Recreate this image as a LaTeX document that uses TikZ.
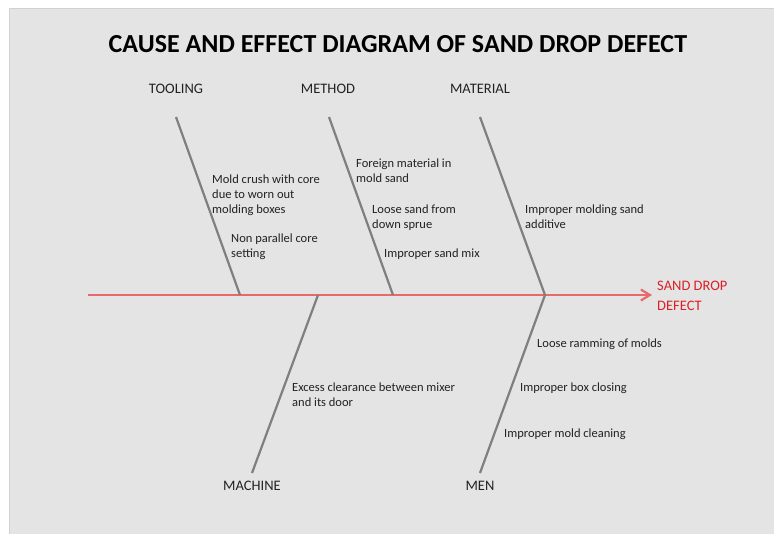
\documentclass[tikz,border=0pt]{standalone}
\usepackage{fontspec}
\setmainfont{Carlito}
\usetikzlibrary{arrows.meta}
\definecolor{bggray}{HTML}{E4E4E4}
\definecolor{bgedge}{HTML}{D2D2D2}
\definecolor{bonegray}{HTML}{7F7F7F}
\definecolor{spinered}{HTML}{E8696B}
\definecolor{effred}{HTML}{DD1F26}
\definecolor{txtgray}{HTML}{222222}

\begin{document}
\begin{tikzpicture}[x=1pt,y=-1pt]
	\tikzstyle{every node}=[inner sep=0pt, text=txtgray]
	\tikzstyle{bone}=[line width=2.2pt, bonegray]
	\tikzstyle{spine}=[line width=2.2pt, spinered, -{Straight Barb[length=9pt,width=11pt]}]
	\tikzstyle{cat}=[font=\fontsize{14.5}{17}\selectfont]
	\tikzstyle{cause}=[anchor=north west, align=left, font=\fontsize{12.5}{15}\selectfont]
	
	%%background
	\useasboundingbox (0,0) rectangle (774,533);
	\fill [bggray, draw=bgedge] (9.5,8.5) rectangle (776,535);
	
	%%title
	\node [font=\fontsize{26}{30}\selectfont\bfseries, text=black] (title) at (398,44) {CAUSE AND EFFECT DIAGRAM OF SAND DROP DEFECT};
	
	%%effect and spine
	\coordinate (tail) at (88,295);
	\node [anchor=west, align=left, text=effred, font=\fontsize{14.5}{20}\selectfont] (effect) at (657,296) {SAND DROP\\DEFECT};
	\draw [spine] (tail) -- ([xshift=-5pt]effect.west |- tail);
	
	%%junctions on the spine
	\coordinate (jTool) at (240,295);
	\coordinate (jMeth) at (393,295);
	\coordinate (jMat) at (545,295);
	\coordinate (jMach) at (318,295);
	\coordinate (jMen) at (545,295);
	
	%%categories
	\node [cat] (tooling) at (176,89) {TOOLING};
	\node [cat] (method) at (328,89) {METHOD};
	\node [cat] (material) at (480,89) {MATERIAL};
	\node [cat] (machine) at (252,486) {MACHINE};
	\node [cat] (men) at (480,486) {MEN};
	\coordinate (bTool) at (176,117);
	\coordinate (bMeth) at (329,117);
	\coordinate (bMat) at (480,117);
	\coordinate (bMach) at (252,473);
	\coordinate (bMen) at (480,473);
	
	%%bones
	\draw [bone] (bTool) -- (jTool);
	\draw [bone] (bMeth) -- (jMeth);
	\draw [bone] (bMat) -- (jMat);
	\draw [bone] (bMach) -- (jMach);
	\draw [bone] (bMen) -- (jMen);
	
	%%causes
	\node [cause] (crush) at (212,175) {Mold crush with core\\due to worn out\\molding boxes};
	\node [cause] (parallel) at (231,234) {Non parallel core\\setting};
	\node [cause] (foreign) at (356,159) {Foreign material in\\mold sand};
	\node [cause] (sprue) at (372,205) {Loose sand from\\down sprue};
	\node [cause] (mix) at (384,249) {Improper sand mix};
	\node [cause] (additive) at (525,205) {Improper molding sand\\additive};
	\node [cause] (ramming) at (537,339) {Loose ramming of molds};
	\node [cause] (closing) at (520,383) {Improper box closing};
	\node [cause] (cleaning) at (504,429) {Improper mold cleaning};
	\node [cause] (mixer) at (292,383) {Excess clearance between mixer\\and its door};

\end{tikzpicture}
\end{document}
